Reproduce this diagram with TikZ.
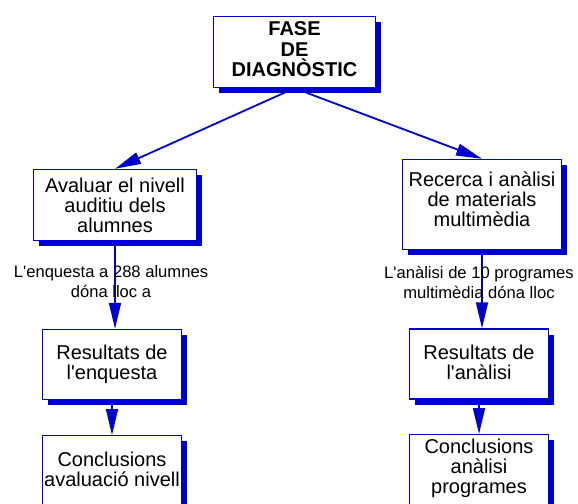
\documentclass[tikz,border=0pt]{standalone}
\usepackage{fontspec}
\setmainfont{Liberation Sans}
\usetikzlibrary{arrows.meta,shadows,backgrounds}
\definecolor{myblue}{RGB}{0,0,205}
\begin{document}
\begin{tikzpicture}[x=1bp,y=-1bp,
  box/.style={draw=myblue, line width=1.4bp, fill=white, align=center, inner sep=0pt,
    font=\fontsize{20bp}{20bp}\selectfont,
    drop shadow={shadow xshift=5.5bp, shadow yshift=-5.5bp, fill=myblue, opacity=1}},
  lbl/.style={align=center, inner sep=0pt, font=\fontsize{16.6bp}{20bp}\selectfont},
  conn/.style={draw=myblue, line width=1.8bp, -{Triangle[length=26bp,width=12bp]}}]
\useasboundingbox (0,0) rectangle (578,504);

\node[box, minimum width=162bp, minimum height=71bp,
      font=\bfseries\fontsize{20bp}{20.5bp}\selectfont] (top) at (294.5,52)
  {FASE\\DE\\DIAGNÒSTIC\rule[-5.6bp]{0pt}{5.6bp}};
\node[box, minimum width=163bp, minimum height=71bp] (a) at (115,205)
  {Avaluar el nivell\\auditiu dels\\alumnes};
\node[box, minimum width=159bp, minimum height=90bp] (r) at (482,204.5)
  {Recerca i anàlisi\\de materials\\multimèdia\rule[-10bp]{0pt}{10bp}};
\node[box, minimum width=139bp, minimum height=70bp] (rl) at (112,364.5)
  {Resultats de\\l\textquotesingle enquesta};
\node[box, minimum width=139bp, minimum height=70bp] (rr) at (479,364)
  {Resultats de\\l\textquotesingle anàlisi\rule[-4bp]{0pt}{4bp}};
\node[box, minimum width=139bp, minimum height=90bp, anchor=north] (cl) at (112,435)
  {Conclusions\\avaluació nivell\rule[-23.3bp]{0pt}{23.3bp}};
\node[box, minimum width=139bp, minimum height=90bp, anchor=north] (cr) at (479,434)
  {Conclusions\\anàlisi\\programes\rule[-27.3bp]{0pt}{27.3bp}};

\node[lbl] (l1) at (111,282) {L\textquotesingle enquesta a 288 alumnes\\dóna lloc a};
\node[lbl] (l2) at (479,282) {L\textquotesingle anàlisi de 10 programes\\multimèdia dóna lloc};

\begin{scope}[on background layer]
\fill[white] (0,0) rectangle (578,504);
\draw[conn] (top.south) -- (a.north);
\draw[conn] (top.south) -- (r.north);
\draw[conn] (a.south) -- (a.south |- rl.north);
\draw[conn] (rl) -- (cl);
\draw[conn] (r.south) -- (r.south |- rr.north);
\draw[conn] (rr) -- (cr);
\end{scope}
\end{tikzpicture}
\end{document}
